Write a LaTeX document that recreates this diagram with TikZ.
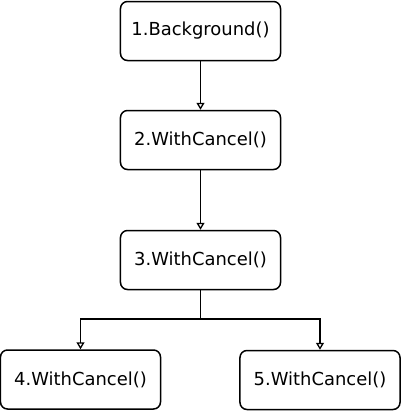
\documentclass[tikz,border=0pt]{standalone}
\usepackage{fontspec}
\setmainfont{DejaVu Sans}
\usetikzlibrary{arrows.meta}
\begin{document}
\begin{tikzpicture}[x=1bp,y=-1bp,
  box/.style={draw, line width=1.5bp, rounded corners=7bp, minimum width=160bp, minimum height=59bp, inner sep=0pt, font=\fontsize{18}{21}\selectfont, fill=white},
  arr/.style={draw, line width=1.3bp, -{Triangle[open, length=7bp, width=8bp, line width=1.3bp]}}]
\useasboundingbox (0,0) rectangle (401,411);
\node[box] (b1) at (200.5,31) {1.Background()};
\node[box] (b2) at (200.5,140) {2.WithCancel()};
\node[box] (b3) at (200.5,260) {3.WithCancel()};
\node[box] (b4) at (80.5,379.5) {4.WithCancel()};
\node[box] (b5) at (320,380) {5.WithCancel()};
\coordinate (sp) at (200.5,319);
\draw[arr] (b1) -- (b2);
\draw[arr] (b2) -- (b3);
\draw[arr] (b3.south) -- (sp) -| (b4.north);
\draw[arr] (sp) -| (b5.north);
\end{tikzpicture}
\end{document}
